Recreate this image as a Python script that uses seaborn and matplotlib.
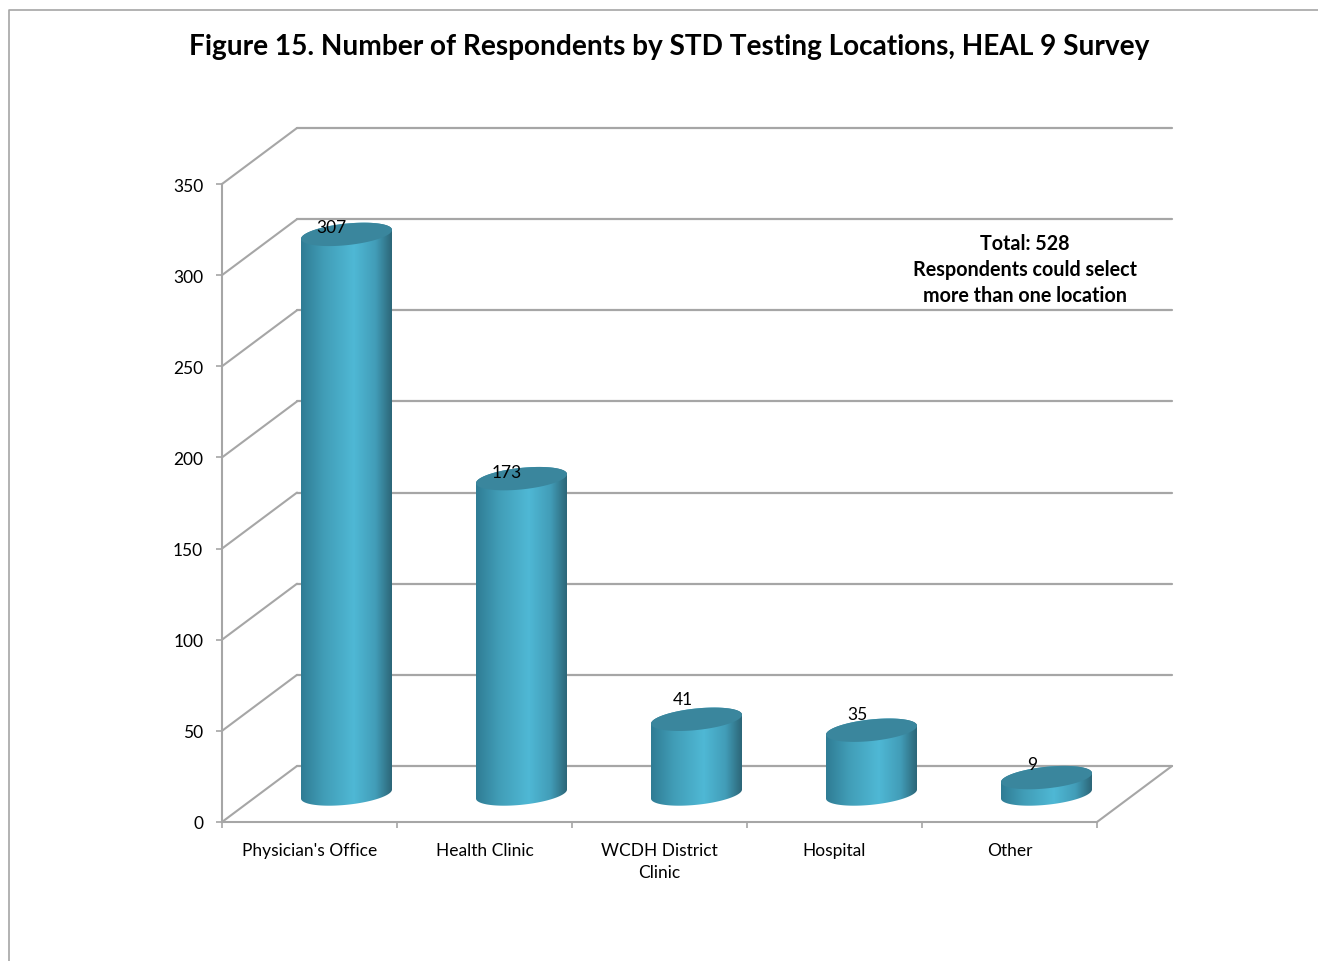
import numpy as np
import pandas as pd
import seaborn as sns
from matplotlib import pyplot as plt
from matplotlib.colors import LinearSegmentedColormap
from matplotlib.lines import Line2D
from matplotlib.patches import Polygon

title = 'Figure 15. Number of Respondents by STD Testing Locations, HEAL 9 Survey'
categories = ["Physician's Office", 'Health Clinic', 'WCDH District Clinic', 'Hospital', 'Other']
tick_labels = ["Physician's Office", 'Health Clinic', 'WCDH District\nClinic', 'Hospital', 'Other']
values = [307, 173, 41, 35, 9]
y_ticks = [0, 50, 100, 150, 200, 250, 300, 350]
note_lines = ['Total: 528', 'Respondents could select', 'more than one location']

GREY = '#a6a6a6'
FW, FH = 1318, 962

sns.set_theme(style='white')
plt.rcParams['font.family'] = ['Lato', 'DejaVu Sans']

fig = plt.figure(figsize=(FW / 100, FH / 100), dpi=100)


def plane_axes(dx_px, dy_px, zorder):
    # front plane of the 3d box is 875x638 px, other planes are shifted up/right from it
    ax = fig.add_axes([(222 + dx_px) / FW, (FH - 823 + dy_px) / FH, 875 / FW, 638 / FH], zorder=zorder)
    ax.set_xlim(-0.5, 4.5)
    ax.set_ylim(0, 350)
    ax.patch.set_alpha(0)
    return ax


# back wall with the gridlines
ax_back = plane_axes(75, 56, 1)
ax_back.set_yticks(y_ticks)
ax_back.set_xticks([])
ax_back.grid(axis='y', color=GREY, lw=1.6, clip_on=False)
sns.despine(ax=ax_back, left=True, bottom=True)
ax_back.tick_params(left=False, labelleft=False)

# front plane with the axes
ax = plane_axes(0, 0, 2)
ax.spines[['top', 'right']].set_visible(False)
ax.spines[['left', 'bottom']].set_color(GREY)
ax.spines[['left', 'bottom']].set_linewidth(1.5)
ax.set_yticks(y_ticks)
ax.set_xticks(np.arange(-0.5, 5))
ax.set_xticklabels([])
ax.set_xticks(np.arange(5), labels=tick_labels, minor=True)
ax.tick_params(axis='y', which='major', left=True, length=4.5, width=1.2, color=GREY, pad=9, labelsize=12.5, labelcolor='black')
ax.tick_params(axis='x', which='major', bottom=True, length=4.5, width=1.2, color=GREY)
ax.tick_params(axis='x', which='minor', bottom=False, length=0, pad=14.5, labelsize=12.5, labelcolor='black')
for lab in ax.get_xticklabels(minor=True):
    lab.set_linespacing(1.45)

# diagonals from the front plane to the back wall
depth_x = 75 / 175
depth_y = 56 * 350 / 638
for v in y_ticks:
    ax.plot([-0.5, -0.5 + depth_x], [v, v + depth_y], color=GREY, lw=1.5, clip_on=False)
ax.plot([4.5, 4.5 + depth_x], [0, depth_y], color=GREY, lw=1.5, clip_on=False)

# cylinders sit half way between front plane and back wall
ax_bar = plane_axes(37, 28, 3)
df = pd.DataFrame({'location': categories, 'respondents': values})
sns.barplot(data=df, x='location', y='respondents', width=0.52, color='#4ab0cc', saturation=1, ax=ax_bar)
ax_bar.axis('off')

shade = LinearSegmentedColormap.from_list(
    'cyl', [(0, '#2f7c94'), (0.25, '#419db7'), (0.58, '#4fb8d5'), (0.82, '#429db8'), (1, '#2c6678')])
gradient = np.linspace(0, 1, 256)[None, :]
t = np.linspace(0, 2 * np.pi, 181)
per_y = 350 / 638
skew = 4.5 * per_y
minor = 10.8 * per_y

label_offsets = [(-15, 7), (-15, 7), (-14, 20), (-14, 16), (-14, 14)]

for bar, val, off in zip(list(ax_bar.patches), values, label_offsets):
    x0, w = bar.get_x(), bar.get_width()
    cx = x0 + w / 2
    ex = cx + w / 2 * np.cos(t)
    ey = skew * np.cos(t) + minor * np.sin(t)
    lower = t >= np.pi
    upper = t <= np.pi
    # outline: bottom half of the base ellipse, then top half of the lid
    outline = np.column_stack([
        np.r_[ex[lower], ex[upper]],
        np.r_[ey[lower], ey[upper] + val]])
    clip = Polygon(outline, transform=ax_bar.transData)
    bar.set_visible(False)
    im = ax_bar.imshow(gradient, cmap=shade, aspect='auto', extent=[x0, x0 + w, -minor * 2, val + minor * 2],
                       zorder=4, interpolation='bilinear')
    # base ellipse hangs below the axes, so the image must not stop at the axes box
    im.set_clip_box(fig.bbox)
    im.set_clip_path(clip)
    ax_bar.fill(ex, ey + val, color='#3a869d', lw=0, zorder=5, clip_on=False)
    ax_bar.annotate(str(val), (cx, val), xytext=off, textcoords='offset pixels', ha='center', va='center',
                    fontsize=12.5, color='black', zorder=6, annotation_clip=False)
ax_bar.set_xlim(-0.5, 4.5)
ax_bar.set_ylim(0, 350)

fig.text(669 / FW, 1 - 46.5 / FH, title, ha='center', va='center', fontsize=20.2, fontweight='bold', color='black')
for line, y_px in zip(note_lines, [244.5, 270.5, 296.5]):
    fig.text(1025 / FW, 1 - y_px / FH, line, ha='center', va='center', fontsize=14.2, fontweight='bold', color='black')

# chart area border, cut off by the page on the right and bottom
fig.add_artist(Line2D([8.5 / FW, 8.5 / FW, 1], [0, 1 - 10.5 / FH, 1 - 10.5 / FH], color=GREY, lw=1.2))

fig.savefig('out.png', dpi=100)
